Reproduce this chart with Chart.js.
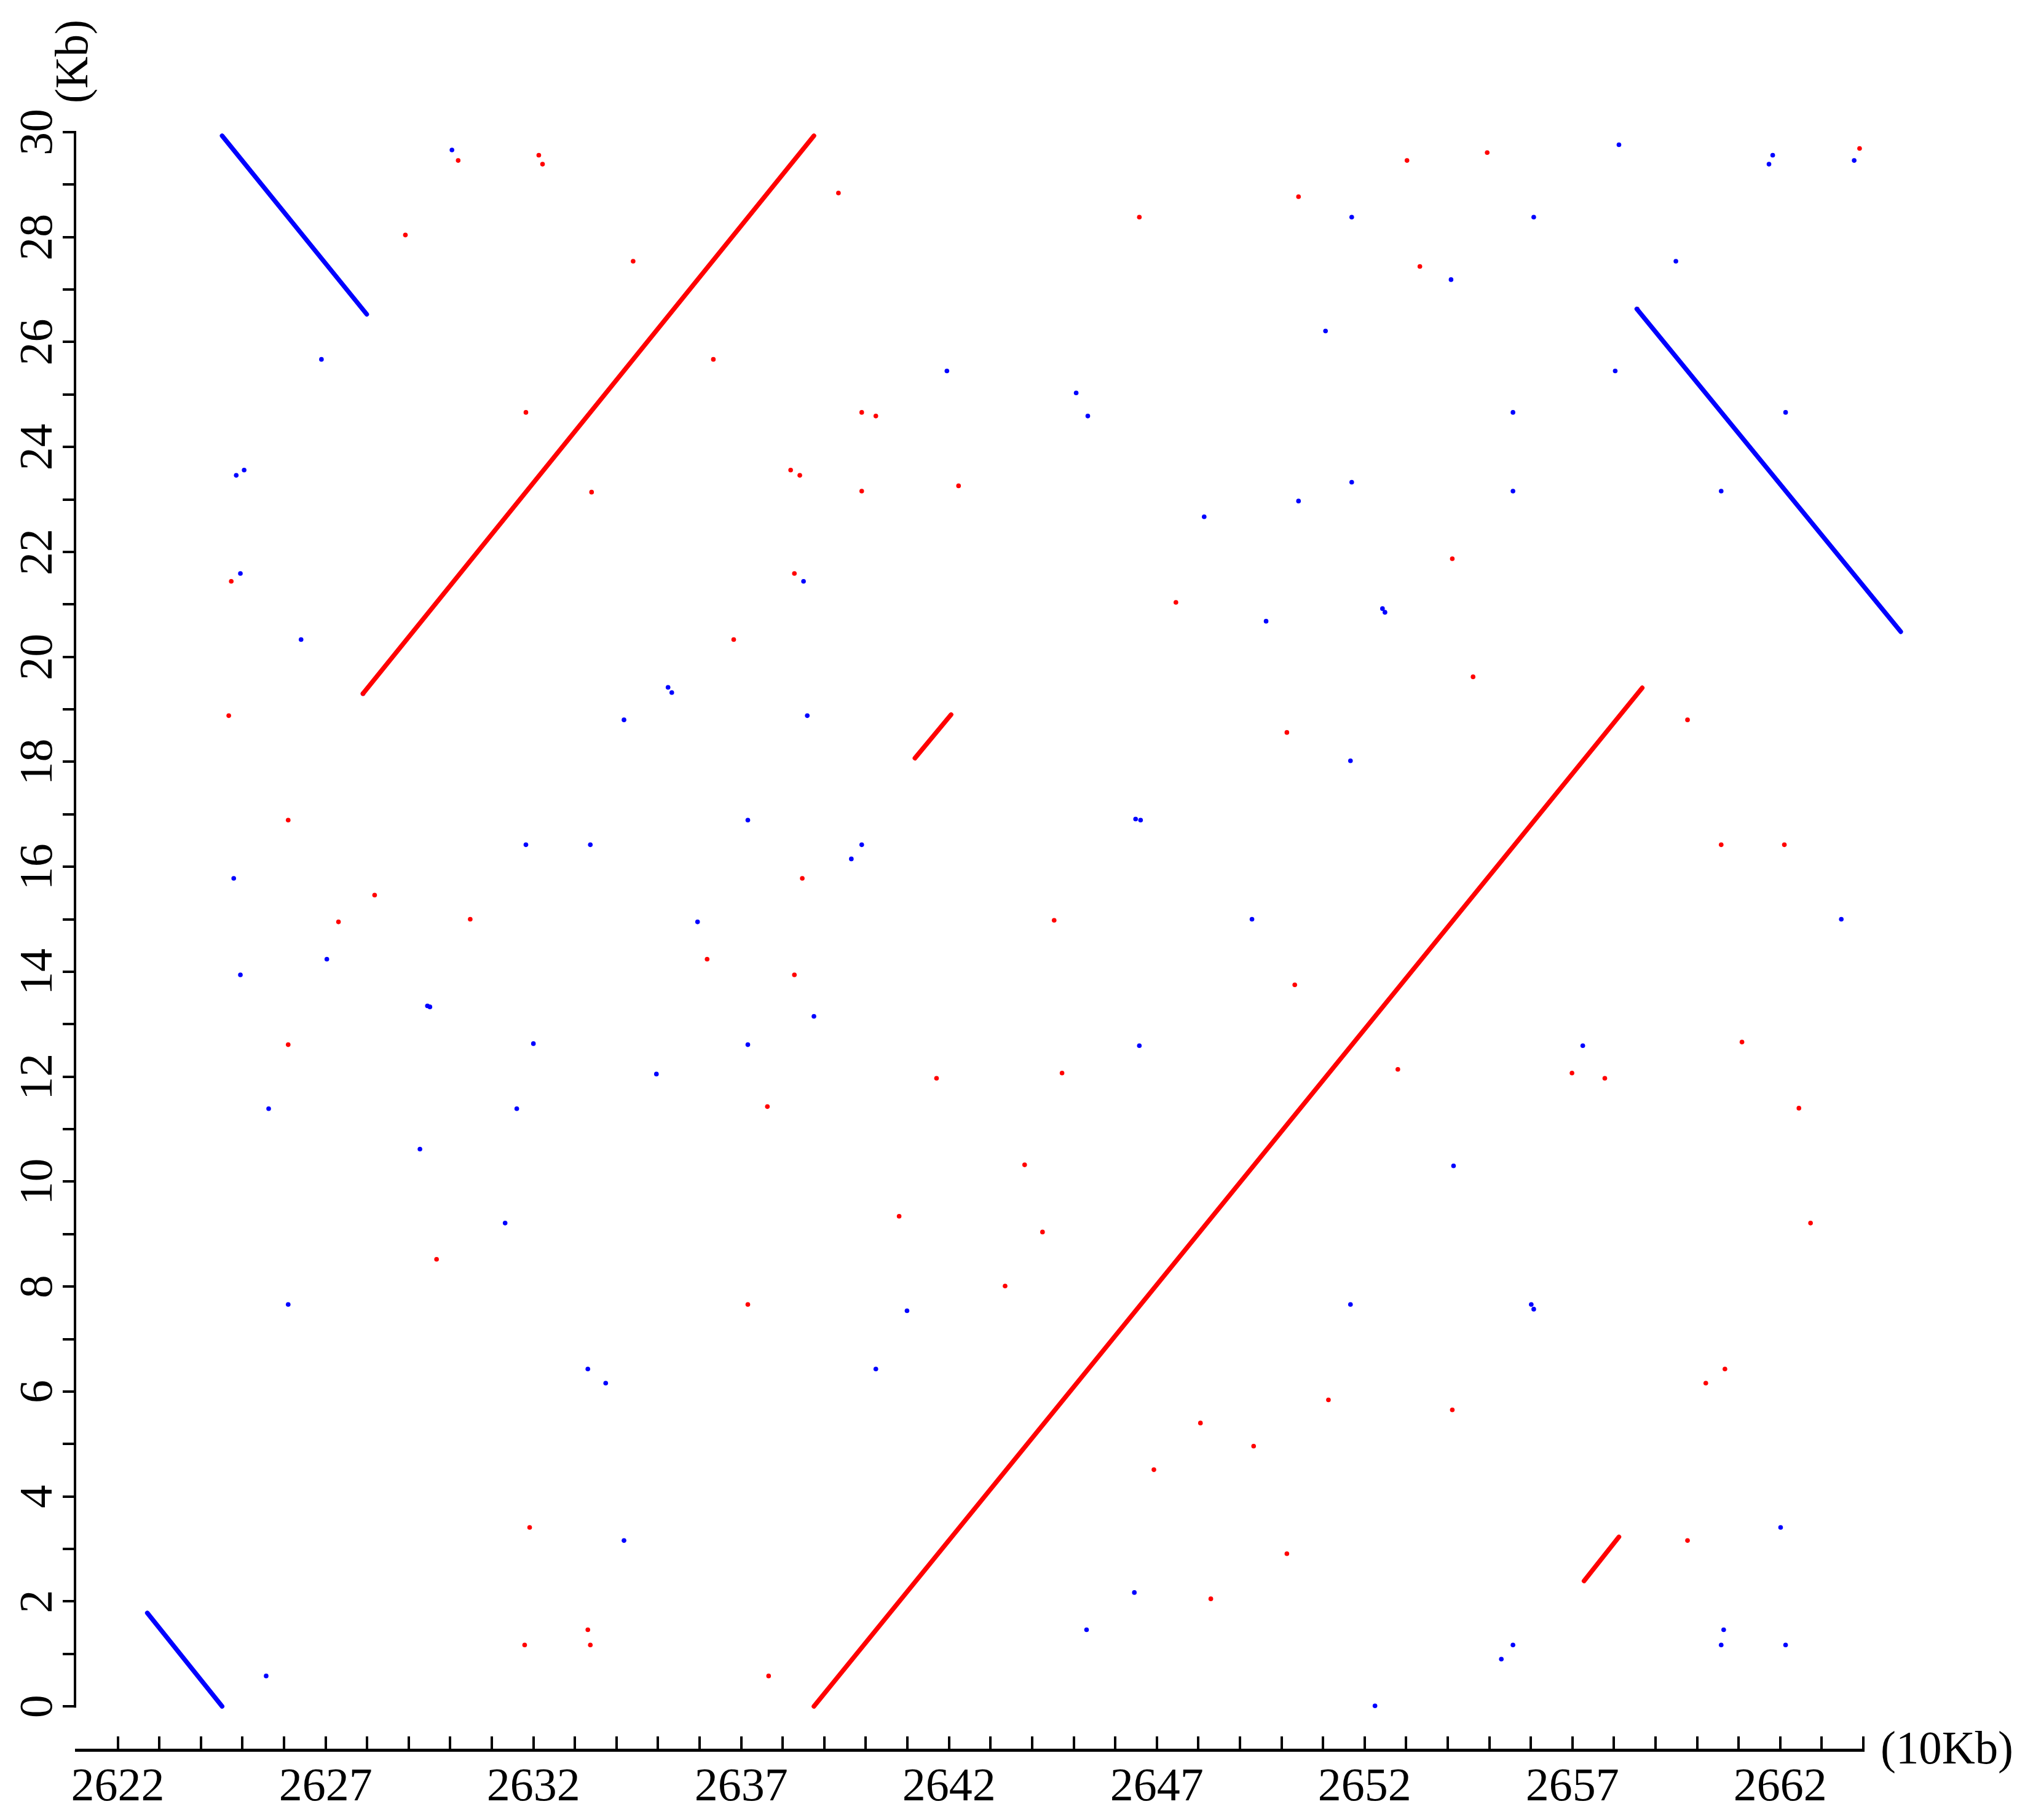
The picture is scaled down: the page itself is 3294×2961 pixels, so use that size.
<!DOCTYPE html>
<html>
<head>
<meta charset="utf-8">
<script src="https://cdn.jsdelivr.net/npm/chart.js@4.4.1/dist/chart.umd.min.js"></script>
<style>
html,body{margin:0;padding:0;background:#ffffff;}
#wrap{width:3294px;height:2961px;position:relative;}
</style>
</head>
<body>
<div id="wrap"><canvas id="c" width="3294" height="2961"></canvas></div>
<script>
// ---- axis ticks / labels ----
const xTickValues = [2622,2623,2624,2625,2626,2627,2628,2629,2630,2631,2632,2633,2634,2635,2636,2637,2638,2639,2640,2641,2642,2643,2644,2645,2646,2647,2648,2649,2650,2651,2652,2653,2654,2655,2656,2657,2658,2659,2660,2661,2662,2663,2664];
const xLabelValues = [2622,2627,2632,2637,2642,2647,2652,2657,2662];
const yTickValues = [0,1,2,3,4,5,6,7,8,9,10,11,12,13,14,15,16,17,18,19,20,21,22,23,24,25,26,27,28,29,30];
const yLabelValues = [0,2,4,6,8,10,12,14,16,18,20,22,24,26,28,30];
const xAxisTitle = "(10Kb)";
const yAxisTitle = "(Kb)";

// ---- long alignment segments ----
const redSegX1 = [2627.90, 2638.75, 2641.18, 2657.28];
const redSegY1 = [19.30, 0.00, 18.07, 2.39];
const redSegX2 = [2638.75, 2658.68, 2642.05, 2658.12];
const redSegY2 = [29.93, 19.41, 18.90, 3.23];
const blueSegX1 = [2622.71, 2624.51, 2658.55];
const blueSegY1 = [1.78, 29.93, 26.63];
const blueSegX2 = [2624.51, 2627.99, 2664.90];
const blueSegY2 = [0.00, 26.53, 20.48];

// ---- isolated dots ----
const blueDotX = [2658.12,2663.78,2630.04,2661.82,2661.73,2651.69,2656.07,2659.49,2654.08,2626.90,2651.06,2641.95,2645.06,2645.34,2655.57,2662.13,2658.03,2624.85,2625.04,2651.69,2655.57,2660.58,2650.41,2648.14,2638.50,2624.95,2652.43,2652.49,2649.63,2626.41,2635.24,2635.33,2627.90,2638.59,2634.18,2651.66,2637.16,2646.49,2646.61,2631.82,2633.37,2639.90,2639.65,2624.79,2635.95,2649.29,2663.47,2627.03,2624.95,2629.45,2629.51,2638.75,2632.00,2637.16,2646.58,2657.25,2634.96,2625.63,2631.60,2629.27,2654.14,2631.32,2664.25,2626.10,2651.66,2656.01,2656.07,2640.99,2633.31,2640.24,2633.74,2634.18,2662.01,2646.46,2645.31,2660.64,2655.57,2655.29,2660.58,2662.13,2625.57,2652.25];
const blueDotY = [29.76,29.46,29.66,29.56,29.39,28.38,28.38,27.54,27.19,25.67,26.21,25.45,25.03,24.59,24.66,24.66,25.45,23.46,23.56,23.33,23.16,23.16,22.97,22.67,21.44,21.59,20.92,20.85,20.68,20.33,19.42,19.32,19.30,18.88,18.80,18.02,16.89,16.91,16.89,16.42,16.42,16.42,16.15,15.78,14.95,15.00,15.00,14.24,13.94,13.35,13.33,13.15,12.63,12.61,12.59,12.59,12.05,11.39,11.39,10.62,10.30,9.21,8.52,7.66,7.66,7.66,7.57,7.54,6.43,6.43,6.16,3.16,3.41,2.17,1.46,1.46,1.17,0.90,1.17,1.17,0.58,0.01];
const redDotX = [2663.91,2630.19,2632.13,2632.22,2654.95,2653.02,2639.34,2650.41,2628.92,2646.58,2634.40,2653.33,2636.33,2631.82,2639.90,2640.24,2638.19,2638.41,2633.40,2639.90,2642.23,2654.11,2638.28,2624.73,2647.46,2636.82,2654.61,2624.67,2659.77,2650.13,2626.10,2660.58,2662.10,2638.47,2628.18,2627.31,2630.48,2644.53,2636.18,2638.28,2650.32,2664.46,2626.10,2661.08,2644.72,2652.80,2656.99,2641.70,2657.78,2637.63,2662.45,2664.68,2643.82,2640.80,2662.73,2644.25,2629.67,2643.35,2637.16,2660.67,2660.21,2651.13,2654.11,2648.05,2649.33,2646.93,2631.91,2659.77,2650.13,2648.30,2633.31,2631.79,2633.37,2637.66,2658.56];
const redDotY = [29.69,29.46,29.56,29.39,29.61,29.46,28.84,28.77,28.04,28.38,27.54,27.44,25.67,24.66,24.66,24.59,23.56,23.46,23.14,23.16,23.26,21.87,21.59,21.44,21.04,20.33,19.62,18.88,18.80,18.56,16.89,16.42,16.42,15.78,15.46,14.95,15.00,14.98,14.24,13.94,13.75,13.35,12.61,12.66,12.07,12.14,12.07,11.97,11.97,11.43,11.40,10.62,10.32,9.34,9.21,9.04,8.52,8.01,7.66,6.43,6.16,5.84,5.65,5.40,4.96,4.51,3.41,3.16,2.91,2.05,1.46,1.17,1.17,0.58,26.63];

const RED = '#ff0000';
const BLUE = '#0000ff';
const FONT_FAMILY = '"Liberation Serif", "Times New Roman", serif';
const LABEL_SIZE = 76;

const datasets = [];
function addSegments(x1, y1, x2, y2, color) {
  for (let i = 0; i < x1.length; i++) {
    datasets.push({
      data: [{x: x1[i], y: y1[i]}, {x: x2[i], y: y2[i]}],
      showLine: true,
      borderColor: color,
      borderWidth: 7.5,
      borderCapStyle: 'round',
      pointRadius: 0,
      pointHoverRadius: 0,
      clip: false
    });
  }
}
addSegments(redSegX1, redSegY1, redSegX2, redSegY2, RED);
addSegments(blueSegX1, blueSegY1, blueSegX2, blueSegY2, BLUE);
datasets.push({
  data: redDotX.map((x, i) => ({x: x, y: redDotY[i]})),
  showLine: false, pointRadius: 3.8, pointBorderWidth: 0,
  pointBackgroundColor: RED, backgroundColor: RED, borderColor: RED, clip: false
});
datasets.push({
  data: blueDotX.map((x, i) => ({x: x, y: blueDotY[i]})),
  showLine: false, pointRadius: 3.8, pointBorderWidth: 0,
  pointBackgroundColor: BLUE, backgroundColor: BLUE, borderColor: BLUE, clip: false
});

const axisDecor = {
  id: 'axisDecor',
  afterDraw(chart) {
    const ctx = chart.ctx;
    const xs = chart.scales.x, ys = chart.scales.y;
    const area = chart.chartArea;
    ctx.save();
    // y axis line from 0 to 30
    ctx.strokeStyle = '#000';
    ctx.lineWidth = 4;
    const lx = area.left - 2;
    ctx.beginPath();
    ctx.moveTo(lx, ys.getPixelForValue(yTickValues[yTickValues.length - 1]) - 2);
    ctx.lineTo(lx, ys.getPixelForValue(yTickValues[0]) + 2);
    ctx.stroke();
    // axis titles
    ctx.fillStyle = '#000';
    ctx.font = LABEL_SIZE + 'px ' + FONT_FAMILY;
    ctx.textAlign = 'left';
    ctx.textBaseline = 'middle';
    ctx.fillText(xAxisTitle, xs.right + 28, xs.top + 2, 216);
    ctx.translate(area.left - 2, 100);
    ctx.rotate(-Math.PI / 2);
    ctx.textAlign = 'center';
    ctx.textBaseline = 'middle';
    ctx.fillText(yAxisTitle, 0, 0, 136);
    ctx.restore();
  }
};

new Chart(document.getElementById('c'), {
  type: 'scatter',
  data: { datasets: datasets },
  options: {
    responsive: false,
    animation: false,
    devicePixelRatio: 1,
    layout: { padding: { top: 215, right: 263, bottom: 0, left: 0 } },
    plugins: { legend: { display: false }, tooltip: { enabled: false } },
    scales: {
      x: {
        type: 'linear',
        position: 'bottom',
        min: 2621,
        max: 2664,
        afterBuildTicks: (s) => { s.ticks = xTickValues.map(v => ({value: v})); },
        afterFit: (s) => { s.height = 114; },
        ticks: {
          autoSkip: false, maxRotation: 0, minRotation: 0, padding: 38,
          color: '#000',
          font: { family: FONT_FAMILY, size: LABEL_SIZE },
          callback: (v) => xLabelValues.includes(v) ? String(v) : ''
        },
        grid: { drawOnChartArea: false, drawTicks: true, tickLength: -22, color: '#000', lineWidth: 4 },
        border: { display: true, color: '#000', width: 5 }
      },
      y: {
        type: 'linear',
        position: 'left',
        min: -0.83,
        max: 30,
        afterBuildTicks: (s) => { s.ticks = yTickValues.map(v => ({value: v})); },
        afterFit: (s) => { s.width = 124; },
        ticks: {
          autoSkip: false, minRotation: 90, maxRotation: 90, crossAlign: 'center', padding: 0,
          color: '#000',
          font: { family: FONT_FAMILY, size: LABEL_SIZE },
          callback: (v) => yLabelValues.includes(v) ? String(v) : ''
        },
        grid: { drawOnChartArea: false, drawTicks: true, tickLength: 22, color: '#000', lineWidth: 4 },
        border: { display: false }
      }
    }
  },
  plugins: [axisDecor]
});
</script>
</body>
</html>
